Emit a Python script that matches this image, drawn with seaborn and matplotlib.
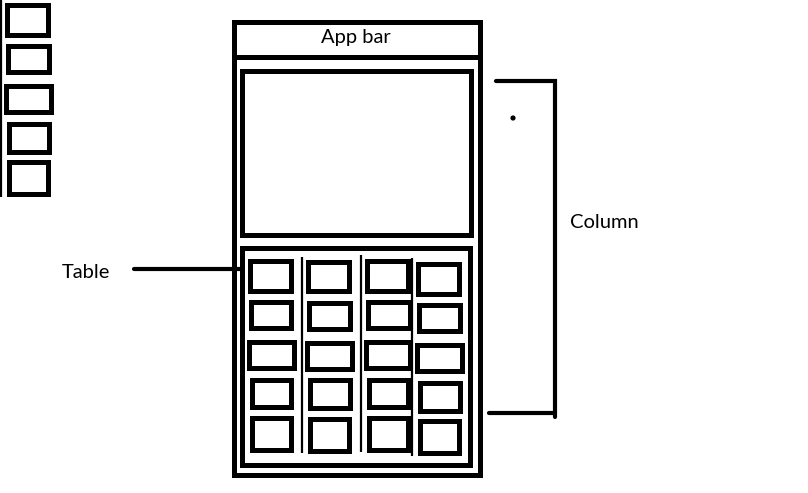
import matplotlib
matplotlib.use("Agg")
import matplotlib.pyplot as plt
import pandas as pd
import seaborn as sns
from matplotlib.patches import Rectangle

sns.set_style("white")
plt.rcParams['font.family'] = ['Lato', 'DejaVu Sans']

# wireframe boxes as outer pixel edges: x0, y0, x1, y1
side_boxes = [(4, 2, 50, 37), (5, 43, 51, 74), (3, 83, 53, 114), (6, 121, 51, 154), (6, 159, 50, 196)]
phone_box = (231, 19, 482, 477)
image_box = (239, 68, 473, 237)
table_box = (239, 245, 472, 467)
cell_boxes = [
    (247, 258, 293, 293), (248, 299, 293, 330), (246, 339, 296, 370), (249, 377, 293, 409), (249, 415, 293, 452),
    (305, 259, 351, 293), (306, 300, 352, 331), (304, 340, 354, 371), (307, 377, 352, 410), (307, 416, 351, 453),
    (364, 258, 410, 293), (365, 299, 412, 330), (363, 339, 412, 370), (366, 377, 410, 409), (366, 415, 410, 452),
    (415, 261, 461, 296), (416, 302, 462, 333), (414, 342, 464, 373), (417, 380, 462, 413), (417, 418, 461, 455),
]
# thin column dividers: x, y_top, y_bottom
dividers = [(302, 257, 453), (361, 255, 452), (412, 258, 456), (1, 0, 197)]
# heavy lines: (xs, ys)
appbar_line = ([234, 479], [57, 57])
table_pointer = ([134, 242], [269, 269])
bracket_top = ([496, 555, 555], [81, 81, 417])
bracket_bottom = ([489, 555], [413, 413])
dot = (513, 118)

labels = [("App bar", 356, 37), ("Table", 86, 273), ("Column", 604, 223)]

fig = plt.figure(figsize=(8.08, 4.93), dpi=100)
ax = fig.add_axes([0, 0, 1, 1])
ax.set_xlim(0, 808)
ax.set_ylim(493, 0)
ax.axis("off")

lw_box = 3.6  # ~5px


def box(b, lw=lw_box):
    x0, y0, x1, y1 = b
    h = lw * 100 / 72 / 2
    ax.add_patch(Rectangle((x0 + h, y0 + h), x1 - x0 - 2 * h, y1 - y0 - 2 * h,
                           fill=False, ec="black", lw=lw, joinstyle="miter"))


def line(xs, ys, lw, cap="butt"):
    df = pd.DataFrame({"x": xs, "y": ys})
    sns.lineplot(data=df, x="x", y="y", color="black", lw=lw, ax=ax, sort=False,
                 estimator=None, solid_capstyle=cap, solid_joinstyle="miter")


for b in side_boxes + [phone_box, image_box, table_box] + cell_boxes:
    box(b)

for x, y0, y1 in dividers:
    line([x, x], [y0, y1], 1.6)

line(*appbar_line, 3.6)
line(*table_pointer, 3.0, "round")
line(*bracket_top, 3.0, "round")
line(*bracket_bottom, 3.0, "round")
sns.scatterplot(x=[dot[0]], y=[dot[1]], color="black", s=14, ax=ax, edgecolor="none")

for text, x, y in labels:
    ax.text(x, y, text, ha="center", va="center", fontsize=14.5, color="black")

ax.set_xlim(0, 808)
ax.set_ylim(493, 0)
ax.set_xlabel("")
ax.set_ylabel("")
fig.savefig("out.png", dpi=100, facecolor="white")
